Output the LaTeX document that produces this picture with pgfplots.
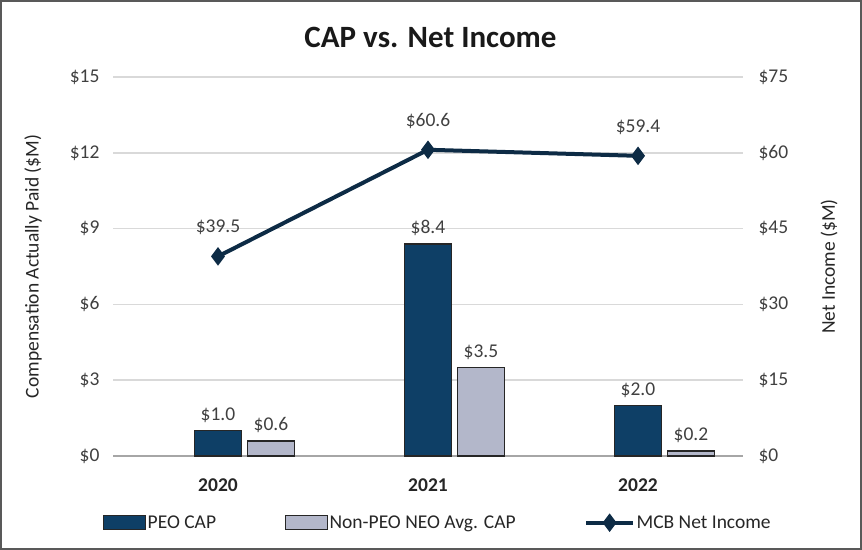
\documentclass[border=0pt]{standalone}
\usepackage{pgfplots}
\pgfplotsset{compat=1.18}
\usepackage{fontspec}
\setmainfont{Carlito}
\definecolor{peo}{HTML}{0E3F66}
\definecolor{neo}{HTML}{B3B7CA}
\definecolor{ni}{HTML}{0D2B45}
\definecolor{txt}{HTML}{404040}
\definecolor{grd}{HTML}{D9D9D9}
\definecolor{edge}{HTML}{262626}
\pgfplotsset{
 /pgf/number format/assume math mode=true,
 barleg/.style={legend image code/.code={\draw[##1] (0pt,-7pt) rectangle (42pt,7pt);}},
 lineleg/.style={legend image code/.code={\draw[##1, mark repeat=2, mark phase=2] plot coordinates {(0pt,0pt) (23.5pt,0pt) (47pt,0pt)};}},
}
\newcommand{\fs}{\fontsize{19.5}{23}\selectfont}
\begin{document}
\begin{tikzpicture}
\begin{axis}[
 scale only axis, width=630pt, height=379pt,
 xmin=-0.5, xmax=2.5, ymin=0, ymax=15,
 clip=false,
 axis x line*=bottom, axis y line*=left,
 x axis line style={draw=black!35, line width=2pt, -},
 y axis line style={draw=none, -},
 ytick={0,3,...,15}, yticklabels={\$0,\$3,\$6,\$9,\$12,\$15},
 xtick={0,1,2}, xticklabels={2020,2021,2022},
 major tick length=0pt,
 ymajorgrids, grid style={grd, line width=1.5pt},
 tick label style={font=\fs, text=txt},
 xticklabel style={font=\fs\bfseries, text=edge, yshift=-19pt},
 yticklabel style={xshift=-10pt},
 ylabel={Compensation Actually Paid (\$M)},
 ylabel style={font=\fs, text=edge, at={(rel axis cs:-0.127,0.5)}, anchor=center},
 title={CAP vs. Net Income},
 title style={font=\fontsize{31}{36}\selectfont\bfseries, text=black!90, at={(rel axis cs:0.504,1.0897)}, anchor=center},
 legend columns=3,
 legend style={at={(rel axis cs:0.515,-0.176)}, anchor=center, draw=none, fill=none,
   font=\fs, text=edge, nodes={inner xsep=1.5pt},
   /tikz/every even column/.append style={column sep=67pt}},
 nodes near coords style={font=\fs, text=txt, yshift=4pt},
]
\addplot[ybar, bar width=47pt, bar shift=0pt, fill=peo, draw=edge, line width=1.5pt, barleg,
  nodes near coords={\$\pgfmathprintnumber[fixed,fixed zerofill,precision=1]{\pgfplotspointmeta}}]
  coordinates {(0,1.0) (1,8.4) (2,2.0)};
\addlegendentry{PEO CAP}
\addplot[ybar, bar width=47pt, bar shift=0pt, fill=neo, draw=edge, line width=1.5pt, barleg,
  nodes near coords={\$\pgfmathprintnumber[fixed,fixed zerofill,precision=1]{\pgfplotspointmeta}}]
  coordinates {(0.2524,0.6) (1.2524,3.5) (2.2524,0.2)};
\addlegendentry{Non-PEO NEO Avg. CAP}
\addlegendimage{ni, line width=4pt, mark=diamond*, mark size=6pt, lineleg}
\addlegendentry{MCB Net Income}
\draw[black!65, line width=2pt] (rel axis cs:-0.17778,-0.24538) rectangle (rel axis cs:1.18730,1.20053);
\end{axis}
\begin{axis}[
 scale only axis, width=630pt, height=379pt,
 xmin=-0.5, xmax=2.5, ymin=0, ymax=75,
 clip=false,
 hide x axis, axis y line*=right,
 y axis line style={draw=none, -},
 ytick={0,15,...,75}, yticklabels={\$0,\$15,\$30,\$45,\$60,\$75},
 major tick length=0pt,
 tick label style={font=\fs, text=txt},
 yticklabel style={xshift=12pt},
 ylabel={Net Income (\$M)},
 ylabel style={font=\fs, text=edge, at={(rel axis cs:1.1365,0.5)}, anchor=center},
 nodes near coords style={font=\fs, text=txt, yshift=16pt},
]
\addplot[ni, line width=4pt, mark=diamond*, mark size=6pt,
  nodes near coords={\$\pgfmathprintnumber[fixed,fixed zerofill,precision=1]{\pgfplotspointmeta}}]
  coordinates {(0,39.5) (1,60.6) (2,59.4)};
\end{axis}
\end{tikzpicture}
\end{document}
